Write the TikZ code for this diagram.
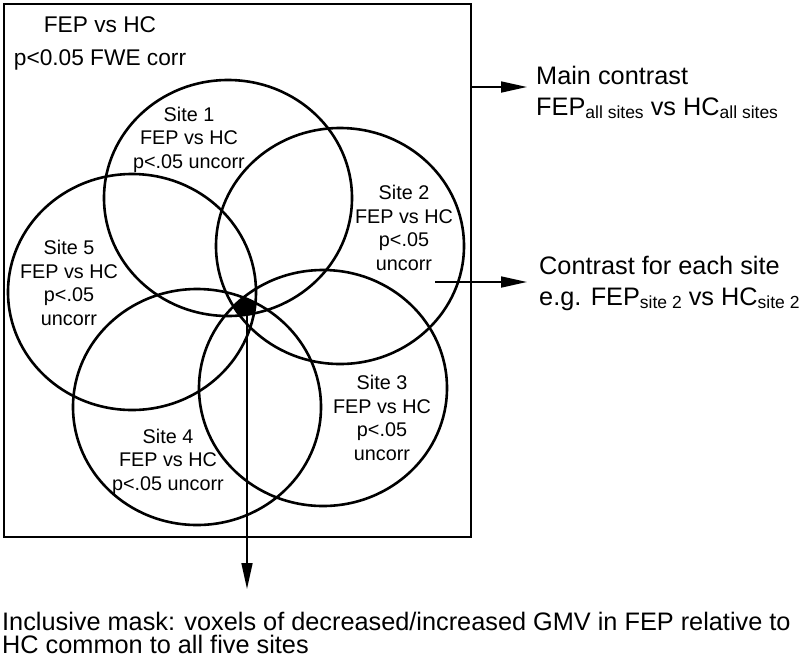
\documentclass[tikz,border=0pt]{standalone}
\usepackage{fontspec}
\setmainfont{Liberation Sans}
\usetikzlibrary{arrows.meta}

\newcommand{\lowsub}[1]{\raisebox{-3.5pt}{\fontsize{17.5}{17.5}\selectfont #1}}

\begin{document}
\begin{tikzpicture}[x=1pt, y=-1pt,
        venn/.style={line width=2.6pt},
        arr/.style={line width=1.7pt, -{Triangle[length=26pt, width=11pt]}},
        sitelbl/.style={align=center, anchor=base, inner sep=0pt,
            font=\fontsize{19.8}{23.5}\selectfont},
        bigtxt/.style={align=left, anchor=base west, inner sep=0pt,
            font=\fontsize{25.3}{30.5}\selectfont}]
    \useasboundingbox (0,0) rectangle (800,665);

    \coordinate (c1) at (228,198);
    \coordinate (c2) at (340,246);
    \coordinate (c3) at (323,388);
    \coordinate (c4) at (197,407);
    \coordinate (c5) at (132,292);

    % outer box
    \draw[venn] (4,4) rectangle (471,537);

    % the five sites
    \draw[venn] (c1) ellipse [x radius=124pt, y radius=118pt];
    \draw[venn] (c2) ellipse [x radius=124pt, y radius=118pt];
    \draw[venn] (c3) ellipse [x radius=124pt, y radius=118pt];
    \draw[venn] (c4) ellipse [x radius=124pt, y radius=118pt];
    \draw[venn] (c5) ellipse [x radius=124pt, y radius=118pt];

    % region common to all five
    \begin{scope}
        \clip (c1) ellipse [x radius=124pt, y radius=118pt];
        \clip (c2) ellipse [x radius=124pt, y radius=118pt];
        \clip (c3) ellipse [x radius=124pt, y radius=118pt];
        \clip (c4) ellipse [x radius=124pt, y radius=118pt];
        \clip (c5) ellipse [x radius=124pt, y radius=118pt];
        \fill[black] (4,4) rectangle (471,537);
    \end{scope}

    % base anchor = baseline of the last line
    \node [align=center, anchor=base, inner sep=0pt,
        font=\fontsize{22.7}{33}\selectfont] (fwe) at (100,65) {FEP vs HC\\p<0.05 FWE corr};

    \node [sitelbl] (s1) at (189,168) {Site 1\\FEP vs HC\\p<.05 uncorr};
    \node [sitelbl] (s2) at (404,270) {Site 2\\FEP vs HC\\p<.05\\uncorr};
    \node [sitelbl] (s3) at (382,460) {Site 3\\FEP vs HC\\p<.05\\uncorr};
    \node [sitelbl] (s4) at (168,490) {Site 4\\FEP vs HC\\p<.05 uncorr};
    \node [sitelbl] (s5) at (69,325) {Site 5\\FEP vs HC\\p<.05\\uncorr};

    \node [bigtxt] (maintxt) at (536,115) {Main contrast\\FEP\lowsub{all sites} vs HC\lowsub{all sites}};
    \node [bigtxt] (sitetxt) at (539,305) {Contrast for each site\\e.g. FEP\lowsub{site 2} vs HC\lowsub{site 2}};
    \node [bigtxt, font=\fontsize{25.3}{23}\selectfont] (masktxt) at (2,653)
        {Inclusive mask: voxels of decreased/increased GMV in FEP relative to\\HC common to all five sites};

    \coordinate (mainfrom) at (471,87);
    \coordinate (sitefrom) at (435,282);
    \coordinate (core) at (247,307);

    \draw[arr] (mainfrom) -- ([xshift=-9pt]maintxt.west |- mainfrom);
    \draw[arr] (sitefrom) -- ([xshift=-12pt]sitetxt.west |- sitefrom);
    \draw[arr] (core) -- (core |- 0,589);
\end{tikzpicture}
\end{document}
